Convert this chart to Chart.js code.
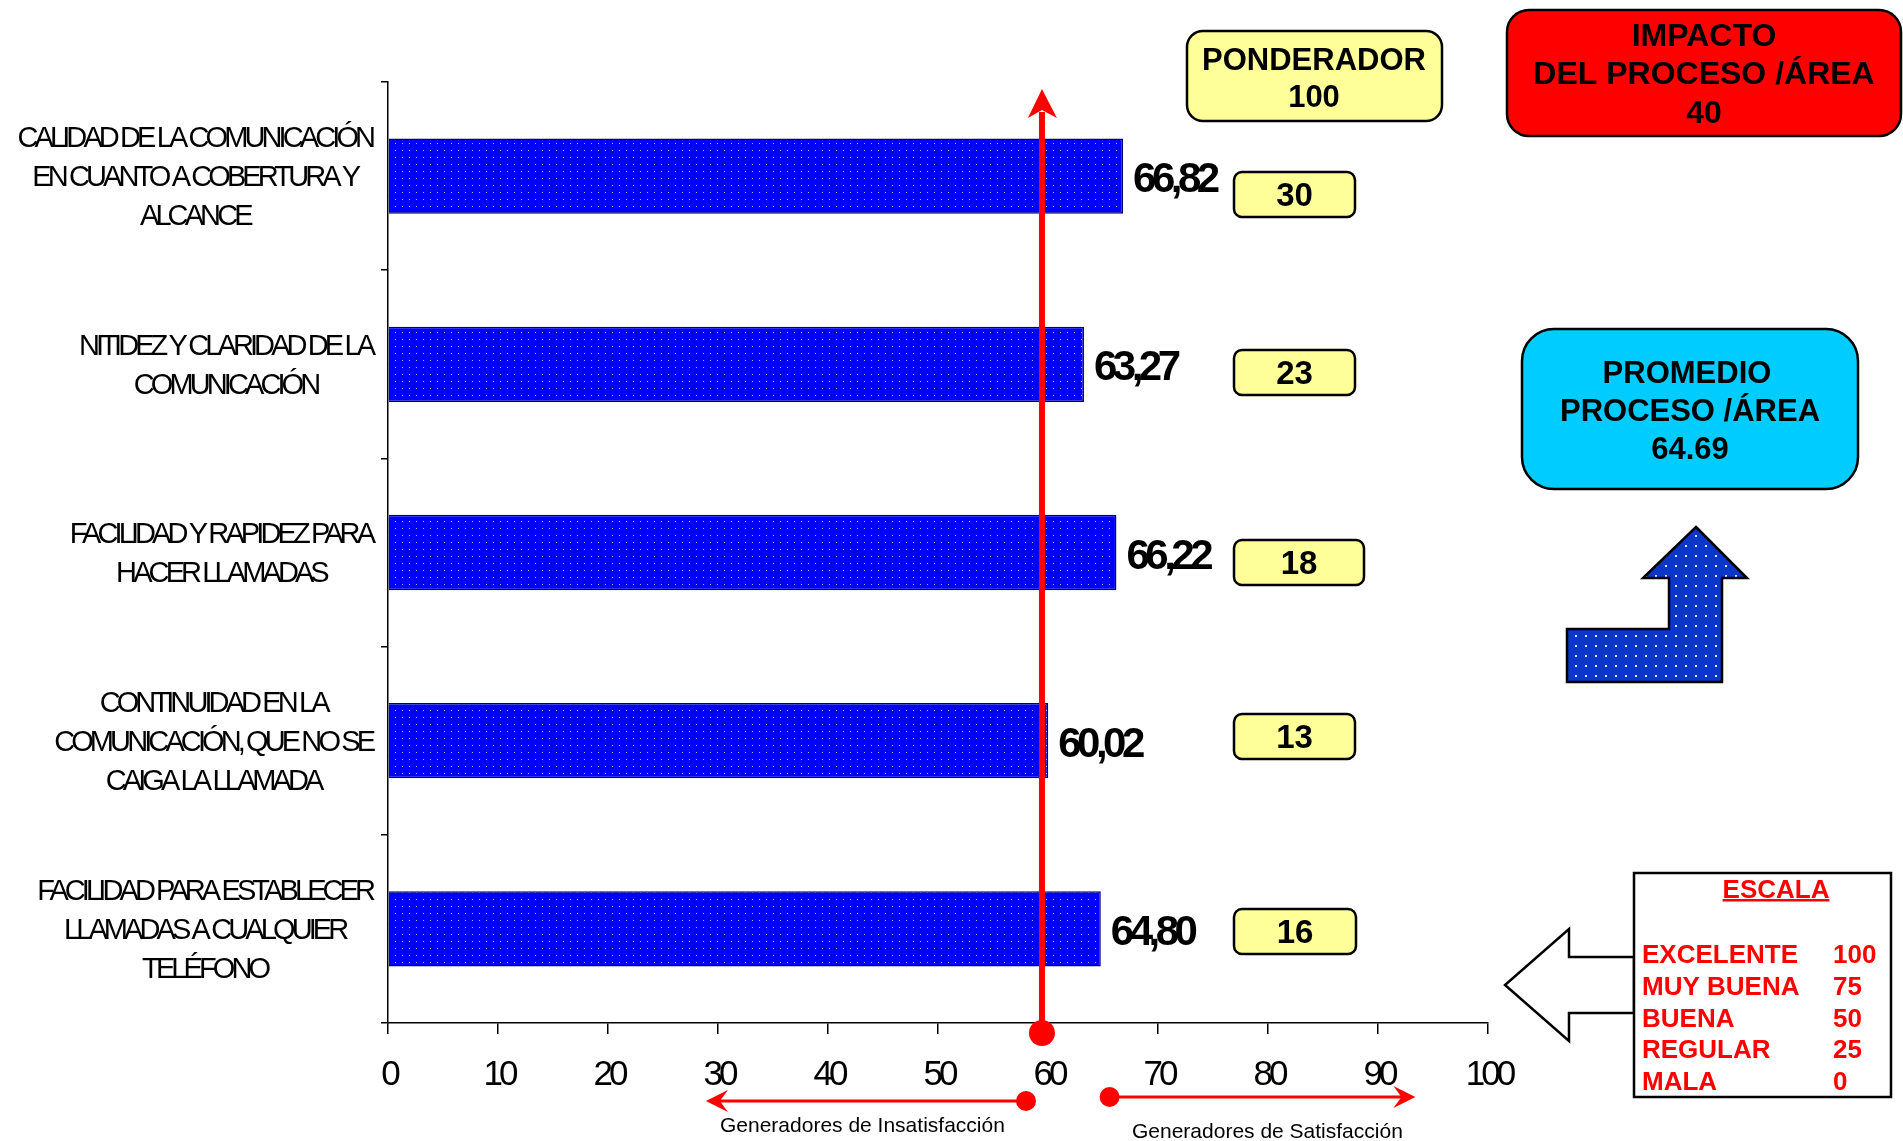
<!DOCTYPE html>
<html>
<head>
<meta charset="utf-8">
<script src="https://cdn.jsdelivr.net/npm/chart.js@4/dist/chart.umd.min.js"></script>
<style>
  html, body { margin: 0; padding: 0; background: #fff; overflow: hidden; }
  canvas { display: block; }
</style>
</head>
<body>
<canvas id="grafico" width="1903" height="1141"></canvas>
<script>
// Atributos evaluados (cada etiqueta en varias líneas)
const categorias = [
  ['CALIDAD DE LA COMUNICACIÓN', 'EN CUANTO A COBERTURA Y', 'ALCANCE'],
  ['NITIDEZ Y CLARIDAD DE LA', 'COMUNICACIÓN'],
  ['FACILIDAD Y RAPIDEZ PARA', 'HACER LLAMADAS'],
  ['CONTINUIDAD EN LA', 'COMUNICACIÓN, QUE NO SE', 'CAIGA LA LLAMADA'],
  ['FACILIDAD PARA ESTABLECER', 'LLAMADAS A CUALQUIER', 'TELÉFONO']
];
// Calificación obtenida por atributo
const valores = [66.82, 63.27, 66.22, 60.02, 64.80];
// Peso de cada atributo
const ponderadores = [30, 23, 18, 13, 16];
const ponderadorTotal = 100;
const impactoArea = 40;
const promedioArea = '64.69';
// Escala de calificación
const escalaNombres = ['EXCELENTE', 'MUY BUENA', 'BUENA', 'REGULAR', 'MALA'];
const escalaValores = [100, 75, 50, 25, 0];
// Valor donde se separan insatisfacción y satisfacción
const umbral = 59.45;
// Marcas del eje horizontal
const ejeTicks = [0, 10, 20, 30, 40, 50, 60, 70, 80, 90, 100];

const FUENTE = '"Liberation Sans", Arial, sans-serif';
const canvas = document.getElementById('grafico');
const ctx = canvas.getContext('2d');

function trama(fondo, punto, paso, tam) {
  const c = document.createElement('canvas');
  c.width = paso; c.height = paso;
  const g = c.getContext('2d');
  g.fillStyle = fondo; g.fillRect(0, 0, paso, paso);
  g.fillStyle = punto;
  g.fillRect(Math.floor(paso / 2), Math.floor(paso / 2), tam, tam);
  return ctx.createPattern(c, 'repeat');
}

const tramaBarra = trama('#0000ff', '#a9a9ff', 7, 1);
const tramaFlecha = trama('#0b36c8', '#dfe6ff', 10, 2);

function rectRedondo(c, x, y, w, h, r) {
  c.beginPath();
  c.moveTo(x + r, y);
  c.lineTo(x + w - r, y);
  c.arcTo(x + w, y, x + w, y + r, r);
  c.lineTo(x + w, y + h - r);
  c.arcTo(x + w, y + h, x + w - r, y + h, r);
  c.lineTo(x + r, y + h);
  c.arcTo(x, y + h, x, y + h - r, r);
  c.lineTo(x, y + r);
  c.arcTo(x, y, x + r, y, r);
  c.closePath();
}

function caja(c, x, y, w, h, r, relleno) {
  rectRedondo(c, x, y, w, h, r);
  c.fillStyle = relleno;
  c.fill();
  c.lineWidth = 2.5;
  c.strokeStyle = '#000';
  c.stroke();
}

// Texto en mayúsculas centrado verticalmente en cy
function texto(c, t, x, cy, size, peso, align, color, espacio) {
  c.font = `${peso} ${size}px ${FUENTE}`;
  c.fillStyle = color;
  c.textBaseline = 'alphabetic';
  c.letterSpacing = '0px';
  let w = c.measureText(t).width;
  const esp = espacio || 0;
  w += esp * (t.length - 1);
  let x0 = x;
  if (align === 'center') x0 = x - w / 2;
  else if (align === 'right') x0 = x - w;
  c.letterSpacing = esp + 'px';
  c.textAlign = 'left';
  c.fillText(t, x0, cy + size * 0.358);
  c.letterSpacing = '0px';
  return { x0, w };
}

function poligono(c, pts) {
  c.beginPath();
  pts.forEach((p, i) => i ? c.lineTo(p[0], p[1]) : c.moveTo(p[0], p[1]));
  c.closePath();
}

const decoracion = {
  id: 'decoracion',
  afterDraw(chart) {
    const c = chart.ctx;
    const sx = chart.scales.x;
    const sy = chart.scales.y;
    c.save();

    // Etiquetas de categorías: bloque alineado a la derecha, líneas centradas
    categorias.forEach((lineas, i) => {
      const cy = sy.getPixelForValue(i);
      const size = 29, esp = -3.9, inter = 39;
      c.font = `400 ${size}px ${FUENTE}`;
      c.letterSpacing = '0px';
      const anchos = lineas.map(l => c.measureText(l).width + esp * (l.length - 1));
      const bloque = Math.max(...anchos);
      const centro = 376 - bloque / 2;
      lineas.forEach((l, k) => {
        const y = cy + (k - (lineas.length - 1) / 2) * inter;
        texto(c, l, centro, y, size, 400, 'center', '#000', esp);
      });
    });

    // Etiquetas del eje horizontal
    ejeTicks.forEach(v => {
      texto(c, String(v), sx.getPixelForValue(v) + 3, 1072, 35, 400, 'center', '#000', -4);
    });

    // Línea de referencia roja con flecha
    const xr = sx.getPixelForValue(umbral);
    c.strokeStyle = '#ff0000';
    c.fillStyle = '#ff0000';
    c.lineWidth = 6;
    c.beginPath();
    c.moveTo(xr, 1033);
    c.lineTo(xr, 112);
    c.stroke();
    poligono(c, [[xr, 89], [xr + 15, 118], [xr, 110], [xr - 14, 118]]);
    c.fill();
    c.beginPath();
    c.arc(xr, 1033, 13, 0, Math.PI * 2);
    c.fill();

    // Valores de las barras
    const meta = chart.getDatasetMeta(0);
    meta.data.forEach((bar, i) => {
      const t = valores[i].toFixed(2).replace('.', ',');
      texto(c, t, bar.x + 10, bar.y + 1, 42, 700, 'left', '#000', -4.5);
    });

    // Flechas inferiores
    const flecha = (desde, hasta, y) => {
      const x1 = sx.getPixelForValue(desde);
      const x2 = sx.getPixelForValue(hasta);
      const dir = Math.sign(x2 - x1);
      c.strokeStyle = '#ff0000';
      c.fillStyle = '#ff0000';
      c.lineWidth = 3;
      c.beginPath();
      c.moveTo(x1, y);
      c.lineTo(x2 - dir * 8, y);
      c.stroke();
      poligono(c, [[x2, y], [x2 - dir * 22, y - 11], [x2 - dir * 14, y], [x2 - dir * 22, y + 11]]);
      c.fill();
      c.beginPath();
      c.arc(x1, y, 10, 0, Math.PI * 2);
      c.fill();
    };
    flecha(58.0, 28.9, 1101);
    flecha(65.6, 93.4, 1097);
    texto(c, 'Generadores de Insatisfacción', 720, 1124, 21, 400, 'left', '#000', 0);
    texto(c, 'Generadores de Satisfacción', 1132, 1130, 21, 400, 'left', '#000', 0);

    // Caja del ponderador total
    caja(c, 1187, 31, 255, 90, 16, '#ffff99');
    texto(c, 'PONDERADOR', 1314, 59, 31, 700, 'center', '#000', 0);
    texto(c, String(ponderadorTotal), 1314, 96, 31, 700, 'center', '#000', 0);

    // Ponderadores por atributo
    const cajasPond = [
      { y: 172, w: 121 }, { y: 350, w: 121 }, { y: 540, w: 130 }, { y: 714, w: 121 }, { y: 909, w: 122 }
    ];
    ponderadores.forEach((p, i) => {
      const b = cajasPond[i];
      caja(c, 1234, b.y, b.w, 45, 8, '#ffff99');
      texto(c, String(p), 1234 + b.w / 2, b.y + 22.5, 33, 700, 'center', '#000', 0);
    });

    // Impacto del proceso
    caja(c, 1507, 10, 394, 126, 22, '#ff0000');
    texto(c, 'IMPACTO', 1704, 35, 32, 700, 'center', '#000', 0);
    texto(c, 'DEL PROCESO /ÁREA', 1704, 73, 32, 700, 'center', '#000', 0);
    texto(c, String(impactoArea), 1704, 112, 32, 700, 'center', '#000', 0);

    // Promedio del proceso
    caja(c, 1522, 329, 336, 160, 32, '#00ccff');
    texto(c, 'PROMEDIO', 1687, 372, 31, 700, 'center', '#000', 0);
    texto(c, 'PROCESO /ÁREA', 1690, 410, 31, 700, 'center', '#000', 0);
    texto(c, promedioArea, 1690, 448, 31, 700, 'center', '#000', 0);

    // Flecha azul acodada
    poligono(c, [[1696, 527], [1747, 578], [1722, 578], [1722, 682], [1567, 682],
                 [1567, 629], [1669, 629], [1669, 578], [1643, 578]]);
    c.fillStyle = tramaFlecha;
    c.fill();
    c.lineWidth = 2.5;
    c.strokeStyle = '#000';
    c.lineJoin = 'miter';
    c.stroke();

    // Caja de la escala con flecha hueca
    poligono(c, [[1634, 957], [1569, 957], [1569, 929], [1505, 985], [1569, 1041], [1569, 1013], [1634, 1013]]);
    c.fillStyle = '#fff';
    c.fill();
    c.lineWidth = 2.5;
    c.strokeStyle = '#000';
    c.stroke();
    c.beginPath();
    c.rect(1634, 873, 257, 224);
    c.fillStyle = '#fff';
    c.fill();
    c.stroke();
    const tit = texto(c, 'ESCALA', 1776, 889, 26, 700, 'center', '#ff0000', 0);
    c.fillStyle = '#ff0000';
    c.fillRect(tit.x0, 899, tit.w, 2.5);
    escalaNombres.forEach((n, i) => {
      const y = 954 + i * 31.7;
      texto(c, n, 1642, y, 26, 700, 'left', '#ff0000', 0);
      texto(c, String(escalaValores[i]), 1833, y, 26, 700, 'left', '#ff0000', 0);
    });

    c.restore();
  }
};

new Chart(ctx, {
  type: 'bar',
  data: {
    labels: categorias.map(l => l.join(' ')),
    datasets: [{
      data: valores,
      backgroundColor: tramaBarra,
      borderColor: '#00006a',
      borderWidth: 1.5,
      barPercentage: 0.4,
      categoryPercentage: 1
    }]
  },
  options: {
    indexAxis: 'y',
    responsive: false,
    animation: false,
    devicePixelRatio: 1,
    layout: { padding: { left: 0, top: 82, right: 415, bottom: 78 } },
    plugins: { legend: { display: false }, tooltip: { enabled: false } },
    scales: {
      x: {
        type: 'linear', min: 0, max: 100, position: 'bottom',
        ticks: { stepSize: 10, display: false },
        grid: { drawOnChartArea: false, drawTicks: true, tickLength: 11, color: '#000', lineWidth: 1.5 },
        border: { display: true, color: '#000', width: 1.5 },
        afterFit(s) { s.height = 40; }
      },
      y: {
        ticks: { display: false },
        grid: { drawOnChartArea: false, drawTicks: true, tickLength: 7, color: '#000', lineWidth: 1.5, offset: true },
        border: { display: true, color: '#000', width: 1.5 },
        afterFit(s) { s.width = 388; }
      }
    }
  },
  plugins: [decoracion]
});
</script>
</body>
</html>
